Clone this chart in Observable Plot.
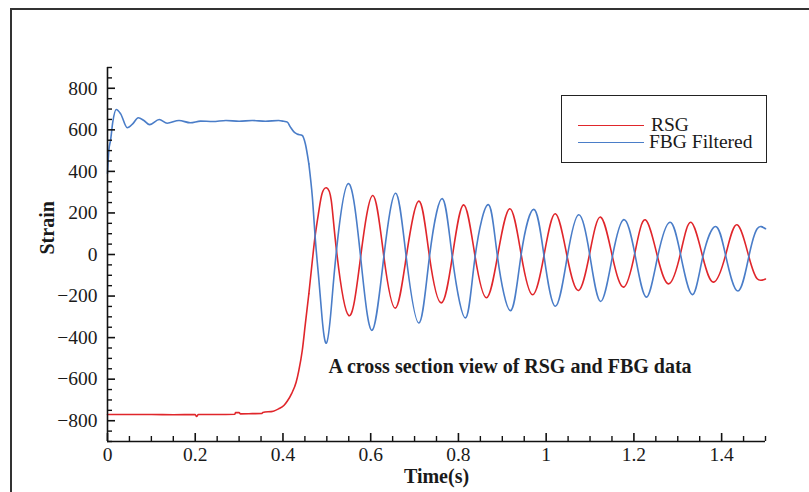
<!DOCTYPE html>
<html>
<head>
<meta charset="utf-8">
<script src="https://cdn.jsdelivr.net/npm/d3@7"></script>
<script src="https://cdn.jsdelivr.net/npm/@observablehq/plot@0.6"></script>
<style>
  html, body { margin: 0; padding: 0; background: #fff; }
  #wrap { position: relative; width: 809px; height: 492px; overflow: hidden; font-family: "Liberation Serif", "Times New Roman", serif; }
  #wrap svg { position: absolute; left: 0; top: 0; }
  #border { position: absolute; left: 10px; top: 8px; width: 820px; height: 500px; border-top: 2px solid #333; border-left: 2px solid #333; box-sizing: border-box; }
  #legend { position: absolute; left: 561px; top: 95px; width: 206px; height: 68px; border: 1.5px solid #222; box-sizing: border-box; background: #fff; }
  .sw { position: absolute; left: 16px; width: 66px; height: 0; border-top: 1.6px solid; }
  .lt { position: absolute; font-size: 19.5px; line-height: 16px; height: 16px; color: #1a1a1a; white-space: nowrap; }
</style>
</head>
<body>
<div id="wrap">
  <div id="border"></div>
</div>
<script>
// ---- data ----
const seriesNames = ["RSG", "FBG Filtered"];
const seriesColors = ["#e0262b", "#4a7dc8"];

const rsgT = [0, 0.05, 0.1, 0.15, 0.2, 0.203, 0.207, 0.25, 0.29, 0.292, 0.30, 0.303, 0.33, 0.352, 0.354, 0.378, 0.39, 0.402, 0.41, 0.42, 0.43, 0.436, 0.444, 0.451, 0.459, 0.467, 0.474, 0.482, 0.489, 0.499, 0.51, 0.522, 0.550, 0.577, 0.605, 0.630, 0.656, 0.681, 0.710, 0.734, 0.761, 0.786, 0.812, 0.838, 0.864, 0.889, 0.917, 0.943, 0.969, 0.995, 1.021, 1.048, 1.074, 1.099, 1.124, 1.151, 1.177, 1.202, 1.226, 1.254, 1.280, 1.306, 1.330, 1.357, 1.382, 1.409, 1.435, 1.462, 1.481, 1.5];
const rsgV = [-770, -770, -770, -771, -770, -780, -770, -770, -769, -761, -761, -767, -766, -765, -760, -754, -743, -727, -705, -668, -615, -560, -462, -334, -189, -29, 100, 212, 292, 321, 262, 20, -294, -12, 284, -10, -258, -12, 257, -10, -233, -12, 239, -10, -208, -10, 220, 0, -194, -5, 196, -12, -173, 3, 180, -10, -157, 5, 167, -12, -141, 3, 155, -12, -133, -3, 143, -10, -117, -118];

const fbgT = [0, 0.003, 0.007, 0.012, 0.02, 0.03, 0.045, 0.058, 0.07, 0.083, 0.096, 0.118, 0.136, 0.163, 0.189, 0.212, 0.24, 0.27, 0.3, 0.33, 0.36, 0.39, 0.402, 0.41, 0.417, 0.425, 0.432, 0.444, 0.451, 0.459, 0.467, 0.474, 0.482, 0.489, 0.499, 0.51, 0.522, 0.549, 0.577, 0.603, 0.630, 0.657, 0.681, 0.710, 0.734, 0.763, 0.786, 0.816, 0.838, 0.868, 0.889, 0.919, 0.943, 0.972, 0.995, 1.021, 1.048, 1.074, 1.099, 1.124, 1.151, 1.177, 1.202, 1.228, 1.254, 1.282, 1.306, 1.333, 1.357, 1.386, 1.409, 1.437, 1.462, 1.481, 1.5];
const fbgV = [390, 500, 550, 637, 698, 677, 610, 630, 658, 645, 625, 650, 632, 645, 634, 642, 640, 645, 641, 645, 641, 645, 641, 637, 613, 590, 580, 573, 533, 436, 276, 67, -125, -302, -427, -260, 20, 341, -12, -365, -10, 295, -12, -330, -10, 269, -12, -305, -10, 240, -10, -270, 0, 217, -5, -249, -12, 191, 3, -226, -10, 168, 5, -205, -12, 155, 3, -193, -12, 135, -3, -176, -10, 124, 124];

const oscStart = 0.459; // where the oscillation part begins

const xMajor = [0, 0.2, 0.4, 0.6, 0.8, 1, 1.2, 1.4];
const xLabels = ["0", "0.2", "0.4", "0.6", "0.8", "1", "1.2", "1.4"];
const xMinor = [0.05, 0.1, 0.15, 0.25, 0.3, 0.35, 0.45, 0.5, 0.55, 0.65, 0.7, 0.75, 0.85, 0.9, 0.95, 1.05, 1.1, 1.15, 1.25, 1.3, 1.35, 1.45, 1.5];
const yMajor = [-800, -600, -400, -200, 0, 200, 400, 600, 800];
const yLabels = ["\u2212800", "\u2212600", "\u2212400", "\u2212200", "0", "200", "400", "600", "800"];
const yMinor = [-900, -850, -750, -700, -650, -550, -500, -450, -350, -300, -250, -150, -100, -50, 50, 100, 150, 250, 300, 350, 450, 500, 550, 650, 700, 750, 850, 900];

const xTitle = "Time(s)";
const yTitle = "Strain";
const annotations = [{t: 0.504, v: -540, text: "A cross section view of RSG and FBG data"}];

// ---- build tables ----
const rsg = rsgT.map((t, i) => ({t, v: rsgV[i]}));
const fbg = fbgT.map((t, i) => ({t, v: fbgV[i]}));
const early = arr => arr.filter(d => d.t <= oscStart);
const late = arr => arr.filter(d => d.t >= oscStart);

const FS = 19.5;
const lineW = 1.6;

const chart = Plot.plot({
  width: 809,
  height: 492,
  marginLeft: 107,
  marginRight: 44,
  marginTop: 67,
  marginBottom: 51,
  style: {fontFamily: "'Liberation Serif', 'Times New Roman', serif", fontSize: FS + "px", color: "#1a1a1a", background: "transparent"},
  x: {domain: [0, 1.5], label: null},
  y: {domain: [-900, 900], label: null},
  marks: [
    Plot.line(early(rsg), {x: "t", y: "v", stroke: seriesColors[0], strokeWidth: lineW, curve: "monotone-x"}),
    Plot.line(late(rsg), {x: "t", y: "v", stroke: seriesColors[0], strokeWidth: lineW, curve: "natural"}),
    Plot.line(early(fbg), {x: "t", y: "v", stroke: seriesColors[1], strokeWidth: lineW, curve: "monotone-x"}),
    Plot.line(late(fbg), {x: "t", y: "v", stroke: seriesColors[1], strokeWidth: lineW, curve: "natural"}),
    Plot.ruleX([0], {stroke: "#111", strokeWidth: 1.6}),
    Plot.ruleY([-900], {stroke: "#111", strokeWidth: 1.6}),
    Plot.axisY(yMinor, {tickSize: -5, tickFormat: () => "", label: null, stroke: "#111", strokeWidth: 1.4}),
    Plot.axisY(yMajor, {tickSize: -8, tickFormat: () => "", label: null, stroke: "#111", strokeWidth: 1.6}),
    Plot.axisY(yMajor, {tickSize: 0, tickPadding: 10, tickFormat: d => yLabels[yMajor.indexOf(d)], label: null, fontSize: FS, fill: "#1a1a1a"}),
    Plot.axisX(xMinor, {tickSize: -5, tickFormat: () => "", label: null, stroke: "#111", strokeWidth: 1.4}),
    Plot.axisX(xMajor, {tickSize: -8, tickFormat: () => "", label: null, stroke: "#111", strokeWidth: 1.6}),
    Plot.axisX(xMajor, {tickSize: 0, tickPadding: 6, tickFormat: d => xLabels[xMajor.indexOf(d)], label: null, fontSize: FS, fill: "#1a1a1a"}),
    Plot.text([xTitle], {frameAnchor: "bottom", dy: 41, fontWeight: "bold", fontSize: 20, fill: "#1a1a1a"}),
    Plot.text([yTitle], {frameAnchor: "left", dx: -60, rotate: -90, fontWeight: "bold", fontSize: 20, fill: "#1a1a1a"}),
    Plot.text(annotations, {x: "t", y: "v", text: "text", textAnchor: "start", fontWeight: "bold", fontSize: 20, fill: "#1a1a1a"})
  ]
});

const wrap = document.getElementById("wrap");
wrap.insertBefore(chart, wrap.firstChild);

// legend
const legend = document.createElement("div");
legend.id = "legend";
seriesNames.forEach((name, i) => {
  const sw = document.createElement("div");
  sw.className = "sw";
  sw.style.top = (i === 0 ? 29 : 46) + "px";
  sw.style.borderTopColor = seriesColors[i];
  legend.appendChild(sw);
  const lt = document.createElement("div");
  lt.className = "lt";
  lt.style.left = (i === 0 ? 89 : 87) + "px";
  lt.style.top = (i === 0 ? 21 : 38) + "px";
  lt.textContent = name;
  legend.appendChild(lt);
});
wrap.appendChild(legend);
</script>
</body>
</html>
